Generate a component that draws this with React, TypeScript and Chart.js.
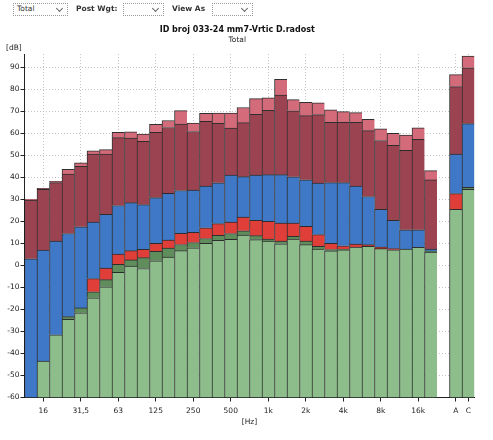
import React, { useEffect, useRef } from "react";
import { Chart, registerables } from "chart.js";

Chart.register(...registerables);

const TITLE = "ID broj 033-24 mm7-Vrtic D.radost";
const SUBTITLE = "Total";
const Y_UNIT = "[dB]";
const X_UNIT = "[Hz]";
const Y_MIN = -60;
const Y_MAX = 96;

const categories = [
  "12,5", "16", "20", "25", "31,5", "40", "50", "63", "80", "100", "125", "160",
  "200", "250", "315", "400", "500", "630", "800", "1k", "1,25k", "1,6k", "2k", "2,5k",
  "3,15k", "4k", "5k", "6,3k", "8k", "10k", "12,5k", "16k", "20k", "", "A", "C",
];
const shownLabels = ["16", "31,5", "63", "125", "250", "500", "1k", "2k", "4k", "8k", "16k", "A", "C"];

// top of each layer (dB)
const greenTop = [-60, -43.5, -31.5, -24.5, -21.5, -14.7, -9.7, -3.2, -0.3, -1.4, 2.1, 3.8, 6.7, 8, 10, 11.4, 11.8, 13.8, 11.7, 11, 9.8, 12, 9.4, 7.4, 6.6, 7.1, 8.3, 8.6, 7.6, 7.1, 7.4, 8.2, 6, null, 25.5, 34.5];
const darkGreenTop = [-60, -43.5, -31.5, -23.3, -19.3, -12, -6.5, 0.5, 2.5, 3.5, 6.4, 7.9, 9.5, 10.4, 12.2, 13.7, 14.5, 15.7, 13.5, 12, 11, 13.2, 11, 8.6, 7.2, 7.4, 8.3, 8.6, 7.6, 7.1, 7.4, 8.2, 6.5, null, 25.5, 35.5];
const redTop = [-60, -43.5, -31.5, -23.3, -19.3, -6, -1.2, 5.1, 6.7, 7.3, 10, 11.5, 14.6, 15, 17.1, 19, 19.7, 21.9, 20.5, 20, 19.2, 19.2, 17.7, 14, 10, 8.9, 9.7, 9.4, 8.3, 7.6, 7.4, 8.2, 6.5, null, 32.6, 35.5];
const blueTop = [3, 7, 11, 14.5, 17.5, 19.7, 23.2, 27.2, 28.5, 27.6, 30.8, 32.7, 34, 34.2, 36, 37.5, 41, 40.3, 41, 41.2, 41.2, 40.2, 38.9, 37.4, 37.6, 37.6, 36, 31.3, 25.5, 20.5, 16.2, 16.2, 7.4, null, 50.5, 64.4];
const maroonTop = [29.7, 34.5, 37.6, 41.5, 45, 50.5, 50.5, 58, 57.8, 56.3, 60.4, 62.6, 64.2, 60.8, 65.4, 64.5, 62.3, 64.8, 68.6, 70.4, 77.3, 70.2, 68, 68.5, 65, 65, 65, 61.2, 56.7, 54.5, 52.2, 57.2, 38.8, null, 81.2, 89.7];
const pinkTop = [30, 35, 38.2, 43.6, 46.6, 52, 52.6, 60.4, 60.7, 59.6, 64.1, 65.8, 70.3, 64.6, 69, 69.2, 69.2, 71.7, 75.7, 76.1, 84.5, 75.3, 74, 73.8, 70.6, 69.8, 69.4, 66.3, 62, 60, 59.2, 62.5, 43, null, 86.6, 95];

const layerTops = [greenTop, darkGreenTop, redTop, blueTop, maroonTop, pinkTop];
const layerColors = ["#8dbd8b", "#5f8e5c", "#e03e39", "#3e78c6", "#9c4352", "#d36b7a"];

const FONT = "'DejaVu Sans', Verdana, sans-serif";
const GRID = "rgba(175,175,175,0.75)";
const AXIS = "#222";

function Dropdown({ left, width }: { left: number; width: number }) {
  return (
    <div
      style={{
        position: "absolute",
        left,
        top: 3,
        width,
        height: 13,
        border: "1px dotted #999",
        boxSizing: "border-box",
        background: "#fff",
      }}
    >
      <span
        style={{
          position: "absolute",
          right: 5,
          top: 2,
          width: 4,
          height: 4,
          borderRight: "1px solid #666",
          borderBottom: "1px solid #666",
          transform: "rotate(45deg)",
        }}
      />
    </div>
  );
}

export default function App() {
  const canvasRef = useRef<HTMLCanvasElement | null>(null);

  useEffect(() => {
    const canvas = canvasRef.current;
    if (!canvas) return;

    const datasets = layerTops.map((tops, li) => ({
      label: "L" + li,
      data: tops.map((t, i) => {
        if (t == null) return null;
        const low = li === 0 ? Y_MIN : (layerTops[li - 1][i] as number);
        return t > low ? [low, t] : null;
      }),
      backgroundColor: layerColors[li],
      borderColor: "rgba(25,25,25,0.9)",
      borderWidth: { top: 1, left: 1, right: 0, bottom: 0 },
      borderSkipped: false,
      grouped: false,
      barPercentage: 1,
      categoryPercentage: 1,
    }));

    const unitPlugin = {
      id: "unitLabel",
      afterDraw(chart: any) {
        const ctx = chart.ctx;
        ctx.save();
        ctx.font = `7.5px ${FONT}`;
        ctx.fillStyle = "#222";
        ctx.textBaseline = "middle";
        ctx.textAlign = "left";
        ctx.fillText(Y_UNIT, 6, 48.5);
        ctx.restore();
      },
    };

    const isShown = (i: number) => shownLabels.includes(categories[i]);

    const chart = new Chart(canvas, {
      type: "bar",
      data: { labels: categories, datasets: datasets as any },
      plugins: [unitPlugin],
      options: {
        responsive: false,
        animation: false,
        layout: { padding: { top: 25, right: 18.5, left: 0, bottom: 0 } },
        plugins: {
          legend: { display: false },
          tooltip: { enabled: false },
          title: {
            display: true,
            text: TITLE,
            color: "#111",
            font: { family: FONT, size: 8, weight: "bold", lineHeight: 1.2 },
            padding: { top: 0, bottom: 0.5 },
          },
          subtitle: {
            display: true,
            text: SUBTITLE,
            color: "#222",
            font: { family: FONT, size: 7.5, lineHeight: 1.2 },
            padding: { top: 0, bottom: 9.9 },
          },
        },
        scales: {
          x: {
            type: "category",
            offset: true,
            grid: {
              offset: false,
              tickLength: 4,
              color: (c: any) => (isShown(c.index) ? GRID : "rgba(0,0,0,0)"),
              tickColor: (c: any) => (isShown(c.index) ? AXIS : "rgba(0,0,0,0)"),
              tickBorderDash: [],
            } as any,
            border: { color: AXIS, width: 1, dash: [1, 2] },
            ticks: {
              autoSkip: false,
              maxRotation: 0,
              minRotation: 0,
              padding: 5,
              color: "#222",
              font: { family: FONT, size: 7.5 },
              callback: (_v: any, i: number) => (isShown(i) ? categories[i] : ""),
            },
            title: {
              display: true,
              text: X_UNIT,
              color: "#222",
              font: { family: FONT, size: 7.5, lineHeight: 1.2 },
              padding: { top: 0, bottom: 13.5 },
            },
            afterFit: (s: any) => {
              s.height = 42.5;
            },
          },
          y: {
            min: Y_MIN,
            max: Y_MAX,
            grid: {
              tickLength: 4,
              color: GRID,
              tickColor: AXIS,
              tickBorderDash: [],
            } as any,
            border: { color: AXIS, width: 1, dash: [1, 2] },
            ticks: {
              stepSize: 10,
              padding: 1,
              color: "#222",
              font: { family: FONT, size: 7.5 },
            },
            afterBuildTicks: (axis: any) => {
              axis.ticks = axis.ticks.filter((t: any) => t.value % 10 === 0);
            },
            afterFit: (s: any) => {
              s.width = 24.5;
            },
          },
        },
      } as any,
    });

    return () => chart.destroy();
  }, []);

  const textStyle: React.CSSProperties = {
    position: "absolute",
    top: 4,
    fontFamily: FONT,
    fontSize: 7.5,
    lineHeight: "10px",
    color: "#333",
    whiteSpace: "nowrap",
  };

  return (
    <div
      style={{
        position: "fixed",
        left: 0,
        top: 0,
        width: 493,
        height: 440,
        background: "#fff",
        overflow: "hidden",
      }}
    >
      <canvas
        ref={canvasRef}
        width={493}
        height={440}
        style={{ position: "absolute", left: 0, top: 0, width: 493, height: 440 }}
      />
      <Dropdown left={13} width={55} />
      <div style={{ ...textStyle, left: 17 }}>Total</div>
      <div style={{ ...textStyle, left: 76, fontWeight: "bold" }}>Post Wgt:</div>
      <Dropdown left={123} width={41} />
      <div style={{ ...textStyle, left: 172, fontWeight: "bold" }}>View As</div>
      <Dropdown left={212} width={41} />
    </div>
  );
}
